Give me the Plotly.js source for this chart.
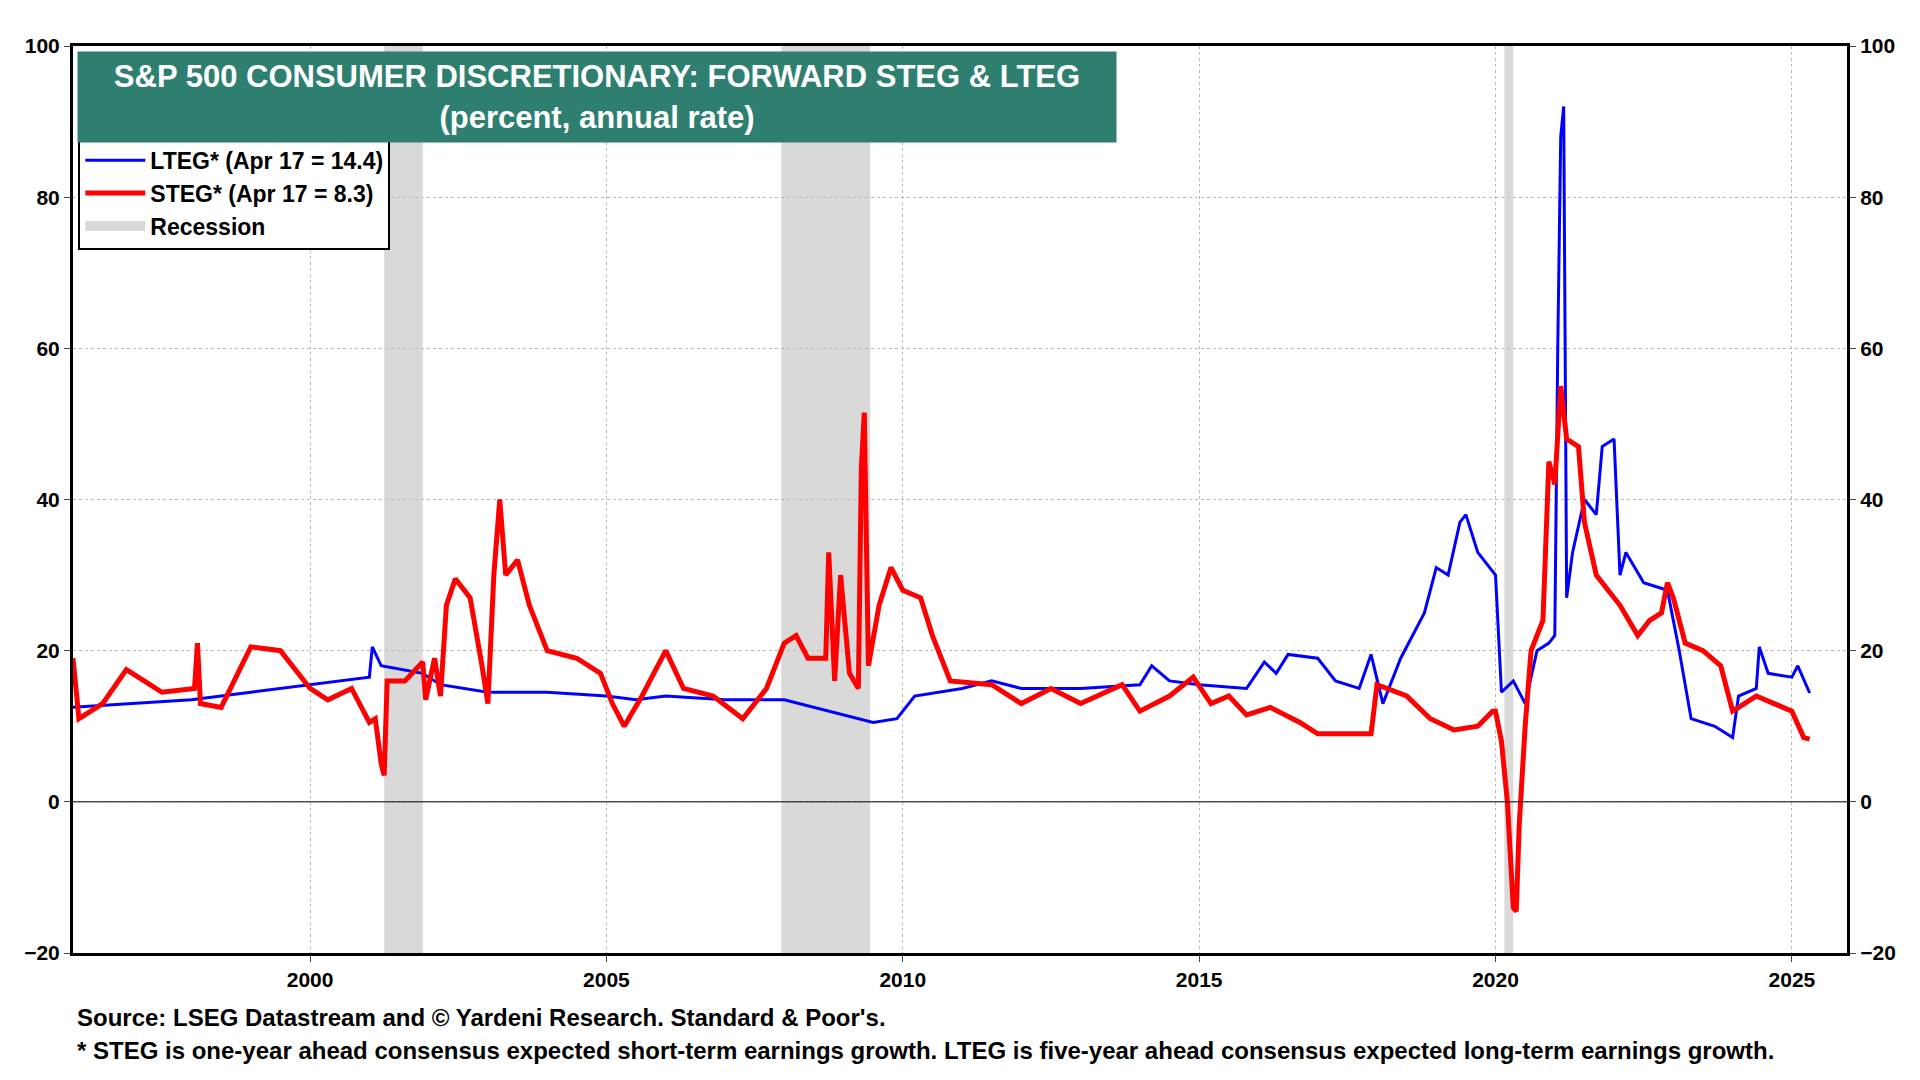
<!DOCTYPE html>
<html><head><meta charset="utf-8">
<script src="https://cdn.plot.ly/plotly-3.0.1.min.js"></script>
<style>body{margin:0;background:#fff}#chart{width:1920px;height:1080px}</style>
</head><body><div id="chart"></div>
<script>
// decimal-year dates
const ltegX = [1996,1997,1998,1999,2000,2000.5,2001,2001.05,2001.2,2001.9,2002.2,2003,2004,2005,2005.5,2006,2007,2008,2008.5,2009,2009.5,2009.9,2010.2,2011,2011.5,2012,2013,2014,2014.2,2014.5,2015,2015.8,2016.1,2016.3,2016.5,2017,2017.3,2017.7,2017.9,2018.1,2018.4,2018.8,2019,2019.2,2019.4,2019.5,2019.7,2020,2020.1,2020.3,2020.5,2020.7,2020.9,2021.0,2021.05,2021.1,2021.15,2021.2,2021.3,2021.5,2021.7,2021.8,2022.0,2022.1,2022.2,2022.5,2022.9,2023.1,2023.3,2023.7,2024.0,2024.1,2024.4,2024.45,2024.6,2025.0,2025.1,2025.3];
const ltegY = [12.5,13,13.5,14.5,15.5,16,16.5,20.5,18,17,15.5,14.5,14.5,14,13.5,14,13.5,13.5,12.5,11.5,10.5,11,14,15,16,15,15,15.5,18,16,15.5,15,18.5,17,19.5,19,16,15,19.5,13,19,25,31,30,37,38,33,30,14.5,16,13,20,21,22,60,88,92,27,33,40,38,47,48,30,33,29,28,20,11,10,8.5,14,15,20.5,17,16.5,18,14.4];
const stegX = [1996,1996.1,1996.5,1996.9,1997.2,1997.5,1998.05,1998.1,1998.15,1998.5,1999,1999.5,2000,2000.3,2000.7,2001,2001.1,2001.2,2001.25,2001.3,2001.6,2001.9,2001.95,2002.1,2002.2,2002.3,2002.45,2002.7,2002.9,2003.0,2003.1,2003.2,2003.3,2003.5,2003.7,2004,2004.5,2004.9,2005.1,2005.3,2005.6,2006,2006.3,2006.8,2007.3,2007.7,2008.0,2008.2,2008.4,2008.7,2008.75,2008.85,2008.95,2009.1,2009.25,2009.3,2009.35,2009.42,2009.6,2009.8,2010.0,2010.3,2010.5,2010.8,2011.5,2012,2012.5,2013,2013.7,2014,2014.5,2014.9,2015.2,2015.5,2015.8,2016.2,2016.7,2017,2017.5,2017.9,2018.0,2018.5,2018.9,2019.3,2019.7,2019.95,2020.0,2020.1,2020.2,2020.3,2020.35,2020.4,2020.5,2020.6,2020.8,2020.9,2021.0,2021.1,2021.2,2021.4,2021.5,2021.7,2021.9,2022.1,2022.4,2022.6,2022.8,2022.9,2023.0,2023.2,2023.5,2023.8,2024.0,2024.2,2024.4,2024.7,2025.0,2025.2,2025.3];
const stegY = [19,11,13,17.5,16,14.5,15,21,13,12.5,20.5,20,15,13.5,15,10.5,11,5,3.5,16,16,18.5,13.5,19,14,26,29.5,27,18,13,30,40,30,32,26,20,19,17,13,10,14,20,15,14,11,15,21,22,19,19,33,16,30,17,15,44,51.5,18,26,31,28,27,22,16,15.5,13,15,13,15.5,12,14,16.5,13,14,11.5,12.5,10.5,9,9,9,15.5,14,11,9.5,10,12,12,8,0,-14,-14.5,-3,10,20,24,45,42,55,48,47,37,30,28,26,22,24,25,29,27,21,20,18,12,13,14,13,12,8.5,8.3];
const recStart = [2001.25, 2007.95, 2020.15];
const recEnd = [2001.9, 2009.45, 2020.3];
const tickVals = [2000, 2005, 2010, 2015, 2020, 2025];

const FONT = "Liberation Sans, Arial, sans-serif";
const shapes = recStart.map((s, i) => ({
  type: "rect", xref: "x", yref: "paper", x0: s, x1: recEnd[i], y0: 0, y1: 1,
  fillcolor: "#d9d9d9", line: { width: 0 }, layer: "below",
}));
shapes.push({ type: "line", xref: "paper", yref: "y", x0: 0, x1: 1, y0: 0, y1: 0, line: { color: "#000", width: 1 } });

const data = [
  { x: ltegX, y: ltegY, type: "scatter", mode: "lines", line: { color: "#0000ff", width: 3 }, name: "LTEG* (Apr 17 = 14.4)" },
  { x: stegX, y: stegY, type: "scatter", mode: "lines", line: { color: "#ff0000", width: 5 }, name: "STEG* (Apr 17 = 8.3)" },
  { x: [null], y: [null], type: "scatter", mode: "lines", line: { width: 16, color: "#d9d9d9" }, name: "Recession" },
  { x: [2000], y: [0], yaxis: "y2", mode: "markers", marker: { opacity: 0 }, showlegend: false, hoverinfo: "skip" },
];

const axisY = { range: [-20, 100], dtick: 20, showgrid: true, gridcolor: "#bbb", griddash: "dot", zeroline: false,
  showline: true, linecolor: "#000", linewidth: 3, ticks: "outside", ticklen: 6, tickfont: { size: 21, family: FONT, color: "#000", weight: "bold" } };

const layout = {
  width: 1920, height: 1080,
  margin: { l: 73, r: 73, t: 46, b: 127 },
  paper_bgcolor: "#fff", plot_bgcolor: "#fff",
  font: { family: FONT, color: "#000" },
  xaxis: { range: [1996.0, 2025.93], tickvals: tickVals, showgrid: true, gridcolor: "#bbb", griddash: "dot", zeroline: false,
    showline: true, mirror: true, linecolor: "#000", linewidth: 3, ticks: "outside", ticklen: 6,
    tickfont: { size: 21, family: FONT, color: "#000", weight: "bold" } },
  yaxis: axisY,
  yaxis2: Object.assign({}, axisY, { overlaying: "y", side: "right", showgrid: false }),
  shapes: shapes,
  showlegend: true,
  legend: { x: 0.003, y: 0.9, xanchor: "left", yanchor: "top", bgcolor: "#fff", bordercolor: "#000", borderwidth: 2,
    font: { size: 23, family: FONT, weight: "bold" }, tracegroupgap: 0, itemwidth: 60 },
  annotations: [
    { xref: "paper", yref: "paper", x: 0.002, y: 0.995, xanchor: "left", yanchor: "top", showarrow: false,
      text: "S&P 500 CONSUMER DISCRETIONARY: FORWARD STEG & LTEG<br>(percent, annual rate)",
      bgcolor: "#2e7f70", width: 1036, height: 88, align: "center",
      font: { size: 31, color: "#fff", family: FONT, weight: "bold" } },
    { xref: "paper", yref: "paper", x: 0.001, y: -0.071, xanchor: "left", yanchor: "middle", showarrow: false,
      text: "Source: LSEG Datastream and © Yardeni Research. Standard & Poor's.", font: { size: 24, family: FONT, weight: "bold" } },
    { xref: "paper", yref: "paper", x: 0.001, y: -0.108, xanchor: "left", yanchor: "middle", showarrow: false,
      text: "* STEG is one-year ahead consensus expected short-term earnings growth. LTEG is five-year ahead consensus expected long-term earnings growth.",
      font: { size: 24, family: FONT, weight: "bold" } },
  ],
};

Plotly.newPlot("chart", data, layout, { staticPlot: true });
</script></body></html>
